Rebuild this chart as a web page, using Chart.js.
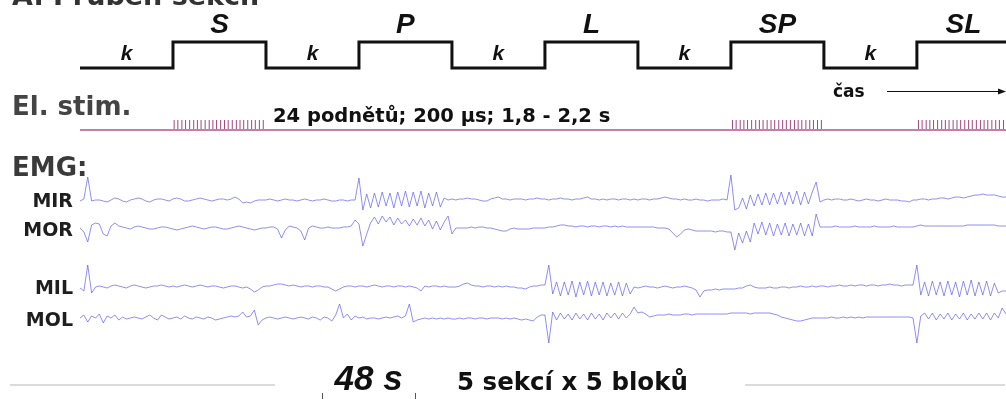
<!DOCTYPE html>
<html>
<head>
<meta charset="utf-8">
<script src="https://cdn.jsdelivr.net/npm/chart.js@4.4.0/dist/chart.umd.min.js"></script>
<style>
  html, body { margin: 0; padding: 0; background: #fff; }
  #wrap { width: 1006px; height: 399px; }
</style>
</head>
<body>
<div id="wrap"><canvas id="c" width="1006" height="399"></canvas></div>
<script>
// Sections of one block (k = rest), each 48 s
const sectionNames = ['k', 'S', 'k', 'P', 'k', 'L', 'k', 'SP', 'k', 'SL'];
const sectionActive = [0, 1, 0, 1, 0, 1, 0, 1, 0, 1];
const sectionLength = 48;
const timeEnd = 478;

// stimulus times (s)
const stimS = [48.6, 50.5, 52.6, 54.5, 56.6, 58.7, 60.6, 62.5, 64.6, 66.7, 68.6, 70.5,
  72.6, 74.6, 76.5, 78.6, 80.7, 82.6, 84.5, 86.6, 88.6, 90.5, 92.6, 94.6];
const stimSP = [336.8, 338.7, 340.8, 342.7, 344.6, 346.7, 348.8, 350.7, 352.6, 354.7, 356.7, 358.6,
  360.7, 362.7, 364.6, 366.7, 368.8, 370.7, 372.6, 374.7, 376.7, 378.6, 380.7, 382.7];
const stimSL = [432.8, 434.7, 436.8, 438.7, 440.6, 442.7, 444.8, 446.7, 448.6, 450.7, 452.7, 454.6,
  456.7, 458.7, 460.6, 462.7, 464.8, 466.7, 468.6, 470.7, 472.7, 474.6, 476.7];

// EMG samples, one every 2 s, amplitude (up = positive)
const emgStep = 2;
const emgMIR = [
  -1,1,23,-1,0,0,-1,-2,0,2,1,-1,-2,0,1,2,1,-1,-2,0,1,1,0,-1,
  1,2,1,-1,-1,0,1,2,1,0,-1,0,1,1,0,1,3,1,-3,-2,-3,-1,0,0,
  0,1,0,-1,0,1,0,0,-1,0,1,0,-1,0,0,1,0,-1,-1,0,0,-1,0,0,
  22,-10,6,-8,7,-7,8,-6,7,-8,8,-6,9,-7,8,-6,9,-8,7,-6,8,-7,2,0,
  1,0,1,1,2,1,1,0,-1,-1,1,2,3,1,1,0,1,1,1,0,1,1,2,1,
  1,0,1,1,2,1,1,0,1,1,2,3,1,1,0,1,0,1,1,0,1,1,0,1,
  0,1,1,0,1,1,2,3,2,1,1,0,1,0,0,1,0,0,-1,0,0,0,1,0,
  25,-10,-8,2,-9,5,-6,6,-5,7,-5,7,-4,8,-5,8,-4,9,-5,8,-4,8,18,-2,
  0,1,0,1,1,0,0,1,0,-1,0,1,0,0,-1,0,1,0,0,0,-1,-1,-2,0,
  0,1,1,0,1,1,2,2,1,2,3,3,2,3,4,5,5,6,5,5,5,4,3,3
];
const emgMOR = [
  0,-4,-14,3,5,4,-6,-8,2,5,2,1,0,-1,1,2,1,0,-1,-1,0,1,1,0,
  -1,-2,-1,0,1,2,1,0,-1,0,1,1,0,-1,-1,0,1,2,1,0,-1,-2,-1,0,
  0,1,1,-1,-10,-2,2,1,0,-3,-12,0,2,1,0,0,1,0,0,0,1,1,2,8,
  4,-18,-6,5,11,4,12,6,11,3,10,4,8,2,9,3,10,2,8,-1,7,-2,6,12,
  -6,0,0,0,0,1,0,1,1,0,0,-1,-2,-3,-3,-1,0,-1,-1,-1,-1,0,0,0,
  0,1,1,2,3,3,2,2,1,2,2,1,2,2,1,2,2,1,2,1,2,1,1,1,
  1,1,1,1,1,0,0,0,-1,-5,-9,-6,-2,-1,-2,-3,-3,-3,-3,-3,-4,-3,-3,-4,
  -4,-22,-5,-15,-3,-14,5,-6,6,-7,5,-8,4,-7,5,-8,4,-7,5,-8,4,-8,14,1,
  1,1,1,2,1,1,1,1,2,1,1,1,1,2,1,1,1,1,2,1,1,1,1,1,
  2,3,2,2,2,2,2,2,2,2,2,2,2,3,3,3,3,3,3,3,3,2,2,2
];
const emgMIL = [
  -1,-4,22,-6,0,1,0,-1,1,2,1,0,-1,1,2,1,0,-1,0,1,1,2,1,0,
  1,0,1,2,1,0,1,2,1,0,1,1,0,-1,0,1,1,0,-1,0,-2,-5,-3,0,
  1,1,2,3,3,2,1,2,1,0,1,1,0,1,1,0,0,-2,-4,-2,0,1,1,0,
  1,1,0,1,2,1,0,1,1,0,1,1,0,1,0,-1,-4,1,0,1,1,0,1,0,
  0,0,1,3,4,2,1,1,0,1,1,0,1,0,1,0,0,-1,-1,-2,0,1,1,2,
  2,22,-7,5,-9,5,-8,6,-10,5,-8,6,-9,5,-8,5,-9,4,-8,5,-9,4,-7,0,
  -1,0,1,0,0,-1,0,1,0,-1,0,0,1,0,-1,-3,-10,-4,-3,-3,-2,-3,-2,-2,
  -2,-2,-1,-1,1,2,0,-1,-1,-1,0,-1,-1,0,0,-1,0,0,1,0,0,1,0,1,
  1,0,1,1,2,1,1,2,1,2,2,1,2,2,1,2,2,3,2,2,1,2,2,2,
  22,-8,5,-9,6,-8,5,-9,6,-8,5,-10,6,-8,7,-9,5,-8,6,-9,4,-6,-4,-4
];
const emgMOL = [
  0,3,-4,2,0,4,-5,2,0,3,-2,1,-1,0,1,0,-1,1,3,0,-2,3,1,-1,
  0,1,-1,2,0,-1,1,0,-1,1,0,-2,-1,0,1,2,1,2,6,1,2,8,-7,-2,
  0,1,0,-1,0,1,0,-1,0,1,0,-1,1,0,-2,1,0,-3,3,14,0,4,-2,2,
  0,1,-1,0,0,-1,0,1,0,1,2,0,2,14,-4,-2,-1,0,-1,0,-1,0,-1,0,
  -1,-1,0,-1,0,0,-1,0,0,-1,0,0,0,-1,0,-1,0,-1,-2,-1,-2,-3,1,3,
  3,-25,6,-2,5,-1,4,-2,5,-1,4,-2,5,-1,4,-2,5,0,5,-1,5,0,4,11,
  5,6,4,1,2,3,3,3,4,3,3,3,4,4,3,4,4,4,4,4,4,4,4,4,
  5,5,5,5,5,4,5,5,5,5,5,4,3,1,0,-1,-2,-3,-3,-2,-1,0,0,0,
  0,0,1,0,0,1,0,1,0,1,0,1,1,1,1,1,1,1,1,1,1,1,1,0,
  -25,2,5,-1,5,-2,4,-1,5,-2,4,-1,5,-2,4,-1,5,-1,5,-2,5,0,10,4
];
const scaleBar = [125, 173]; // 48 s

// row layout, y axis runs from top (0) to bottom (399)
const rows = { block: 68, stim: 130, MIR: 200, MOR: 228, MIL: 287, MOL: 318 };
const blockHeight = 26;
const stimTick = 5;

const blockPoints = sectionActive.map((a, i) => ({ x: i * sectionLength, y: rows.block - a * blockHeight }));
blockPoints.push({ x: timeEnd, y: rows.block - sectionActive[sectionActive.length - 1] * blockHeight });

const stimPoints = [...stimS, ...stimSP, ...stimSL].map(t => ({ x: t, y: rows.stim - stimTick }));

function trace(values, base) {
  return values.map((v, i) => ({ x: i * emgStep, y: base - v }));
}

const emgColor = 'rgba(95,95,235,0.7)';
function emgSet(values, base) {
  return { data: trace(values, base), borderColor: emgColor, borderWidth: 1, pointRadius: 0, tension: 0 };
}

const textPlugin = {
  id: 'texts',
  afterDraw(chart) {
    const ctx = chart.ctx;
    const x = chart.scales.x;
    ctx.save();
    ctx.textBaseline = 'alphabetic';

    ctx.fillStyle = '#333';
    ctx.font = 'bold 27px "DejaVu Sans"';
    ctx.textAlign = 'left';
    ctx.fillText('A. Průběh sekcí:', 12, 5);

    ctx.fillStyle = '#111';
    ctx.textAlign = 'center';
    sectionNames.forEach((n, i) => {
      const cx = x.getPixelForValue(i * sectionLength + sectionLength / 2);
      if (n === 'k') {
        ctx.font = 'italic bold 21px "Liberation Sans"';
        ctx.fillText(n, cx, rows.block - 8);
      } else {
        ctx.font = 'italic bold 28px "Liberation Sans"';
        ctx.fillText(n, cx, rows.block - blockHeight - 9);
      }
    });

    ctx.textAlign = 'left';
    ctx.fillStyle = '#444';
    ctx.font = 'bold 26px "DejaVu Sans"';
    ctx.fillText('El. stim.', 12, 115);
    ctx.fillStyle = '#111';
    ctx.font = 'bold 19.5px "DejaVu Sans"';
    ctx.fillText('24 podnětů; 200 μs; 1,8 - 2,2 s', 273, 122);

    ctx.font = 'bold 17px "DejaVu Sans"';
    ctx.fillText('čas', 833, 97);
    ctx.strokeStyle = '#111';
    ctx.lineWidth = 1;
    ctx.beginPath();
    ctx.moveTo(887, 91.5); ctx.lineTo(1003, 91.5);
    ctx.stroke();
    ctx.beginPath();
    ctx.moveTo(1006, 91.5); ctx.lineTo(998, 88.5); ctx.lineTo(998, 94.5); ctx.closePath();
    ctx.fillStyle = '#111';
    ctx.fill();

    ctx.fillStyle = '#3a3a3a';
    ctx.font = 'bold 26px "DejaVu Sans"';
    ctx.fillText('EMG:', 12, 176);

    ctx.fillStyle = '#1e1e1e';
    ctx.font = 'bold 19px "DejaVu Sans"';
    ctx.textAlign = 'right';
    ctx.fillText('MIR', 73, rows.MIR + 7);
    ctx.fillText('MOR', 73, rows.MOR + 8);
    ctx.fillText('MIL', 73, rows.MIL + 7);
    ctx.fillText('MOL', 73, rows.MOL + 8);

    // bottom line + scale bar
    ctx.strokeStyle = '#d0d0d0';
    ctx.lineWidth = 1.5;
    ctx.beginPath();
    ctx.moveTo(10, 385); ctx.lineTo(275, 385);
    ctx.moveTo(745, 385); ctx.lineTo(1005, 385);
    ctx.stroke();
    ctx.strokeStyle = '#555';
    ctx.lineWidth = 1;
    ctx.beginPath();
    scaleBar.forEach(t => {
      const px = Math.round(x.getPixelForValue(t)) + 0.5;
      ctx.moveTo(px, 393); ctx.lineTo(px, 399);
    });
    ctx.stroke();

    ctx.textAlign = 'center';
    ctx.fillStyle = '#111';
    ctx.font = 'italic bold 35px "Liberation Sans"';
    ctx.fillText('48 s', (x.getPixelForValue(scaleBar[0]) + x.getPixelForValue(scaleBar[1])) / 2, 390);
    ctx.textAlign = 'left';
    ctx.font = 'bold 24.5px "DejaVu Sans"';
    ctx.fillText('5 sekcí x 5 bloků', 457, 390);
    ctx.restore();
  }
};

new Chart(document.getElementById('c'), {
  type: 'line',
  data: {
    datasets: [
      { data: blockPoints, stepped: true, borderColor: '#111', borderWidth: 3, pointRadius: 0 },
      { data: [{ x: 0, y: rows.stim }, { x: timeEnd, y: rows.stim }], borderColor: '#c47fa8', borderWidth: 2, pointRadius: 0 },
      { data: stimPoints, showLine: false, pointStyle: 'line', rotation: 90, pointRadius: stimTick,
        borderColor: '#a2477f', borderWidth: 1 },
      emgSet(emgMIR, rows.MIR),
      emgSet(emgMOR, rows.MOR),
      emgSet(emgMIL, rows.MIL),
      emgSet(emgMOL, rows.MOL)
    ]
  },
  options: {
    responsive: false,
    animation: false,
    events: [],
    layout: { autoPadding: false, padding: { left: 80, right: 0, top: 0, bottom: 0 } },
    plugins: { legend: { display: false }, tooltip: { enabled: false } },
    scales: {
      x: { type: 'linear', min: 0, max: timeEnd, display: false },
      y: { type: 'linear', min: 0, max: 399, reverse: true, display: false }
    }
  },
  plugins: [textPlugin]
});
</script>
</body>
</html>
